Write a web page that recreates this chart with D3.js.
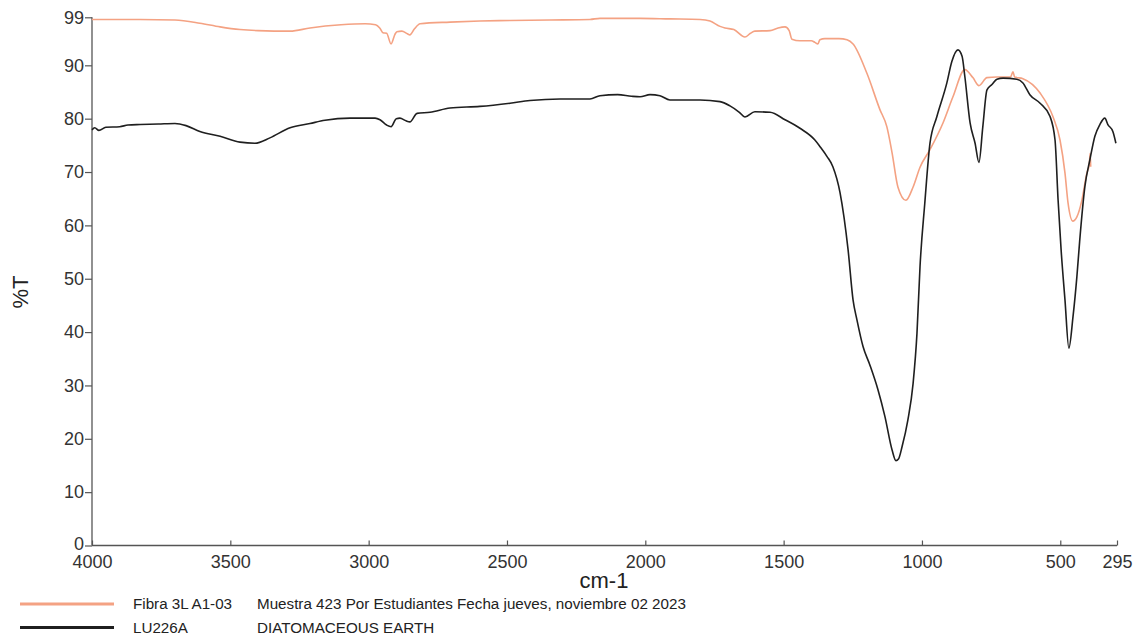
<!DOCTYPE html>
<html>
<head>
<meta charset="utf-8">
<script src="https://cdn.jsdelivr.net/npm/d3@7"></script>
<style>
  body { margin: 0; background: #fff; }
  svg { display: block; font-family: "Liberation Sans", Arial, sans-serif; }
</style>
</head>
<body>
<div class="chart"></div>
<script>
// wavenumber (cm-1) and %T
const fibraWn = [4000, 3826, 3700, 3610, 3537, 3465, 3400, 3284, 3212, 3100, 3013, 2975, 2960, 2948, 2935, 2919, 2905, 2898, 2880, 2860, 2851, 2835, 2814, 2706, 2598, 2489, 2345, 2200, 2164, 2019, 1911, 1802, 1766, 1730, 1712, 1680, 1640, 1620, 1604, 1549, 1520, 1495, 1480, 1470, 1441, 1400, 1387, 1376, 1369, 1351, 1300, 1271, 1249, 1199, 1152, 1127, 1108, 1087, 1058, 1032, 1007, 971, 924, 888, 845, 816, 794, 765, 729, 680, 671, 665, 635, 573, 526, 501, 483, 472, 455, 440, 422, 404, 395, 392, 390];
const fibraT  = [98.6, 98.6, 98.5, 97.9, 97.2, 96.7, 96.5, 96.4, 97.0, 97.6, 97.8, 97.6, 97.0, 96.1, 96.0, 94.0, 95.8, 96.3, 96.4, 95.9, 95.7, 96.8, 97.8, 98.1, 98.3, 98.4, 98.5, 98.6, 98.8, 98.8, 98.7, 98.6, 98.3, 97.3, 97.0, 96.7, 95.3, 96.0, 96.4, 96.5, 97.0, 97.2, 96.5, 94.9, 94.6, 94.6, 94.3, 94.0, 94.8, 95.0, 95.0, 94.8, 94.0, 88.5, 81.7, 78.5, 73.6, 67.2, 64.7, 67.2, 70.9, 74.2, 79.2, 84.1, 89.2, 87.7, 86.2, 87.7, 87.8, 87.8, 88.8, 87.8, 87.5, 84.8, 80.3, 76.0, 69.8, 64.2, 60.8, 61.6, 64.7, 69.8, 71.5, 73.5, 71.0];

const diatoWn = [4000, 3990, 3975, 3950, 3900, 3870, 3826, 3760, 3700, 3660, 3610, 3537, 3465, 3411, 3357, 3284, 3212, 3158, 3067, 2977, 2959, 2935, 2919, 2900, 2887, 2865, 2851, 2825, 2778, 2706, 2598, 2489, 2417, 2308, 2200, 2164, 2100, 2050, 2019, 1983, 1947, 1911, 1802, 1730, 1694, 1660, 1640, 1604, 1549, 1495, 1441, 1387, 1369, 1343, 1322, 1296, 1267, 1249, 1235, 1213, 1188, 1159, 1134, 1108, 1094, 1085, 1072, 1051, 1032, 1018, 1007, 990, 971, 946, 910, 892, 870, 855, 845, 826, 808, 794, 780, 765, 747, 729, 707, 657, 635, 610, 573, 537, 519, 508, 497, 483, 469, 454, 440, 430, 411, 393, 375, 357, 339, 328, 310, 299];
const diatoT  = [77.9, 78.3, 77.8, 78.4, 78.5, 78.8, 78.9, 79.0, 79.1, 78.7, 77.6, 76.7, 75.6, 75.4, 76.4, 78.3, 79.1, 79.7, 80.1, 80.1, 79.8, 78.8, 78.5, 80.0, 80.1, 79.6, 79.4, 81.0, 81.2, 82.0, 82.3, 82.9, 83.4, 83.7, 83.7, 84.3, 84.5, 84.2, 84.1, 84.5, 84.3, 83.5, 83.5, 83.2, 82.4, 81.2, 80.3, 81.3, 81.2, 79.8, 78.2, 76.0, 74.8, 72.9, 71.0, 66.1, 55.4, 46.0, 42.3, 37.3, 33.8, 29.2, 24.2, 17.9, 15.9, 16.2, 18.5, 23.5, 30.4, 39.8, 52.3, 64.0, 75.4, 80.4, 86.7, 90.7, 92.9, 91.7, 87.9, 79.2, 75.4, 71.8, 78.5, 85.4, 86.4, 87.4, 87.6, 87.4, 86.7, 84.5, 82.9, 80.4, 76.0, 64.8, 55.4, 46.0, 37.0, 42.9, 50.4, 57.0, 67.3, 72.3, 76.7, 78.9, 80.1, 78.9, 77.6, 75.4];

const xTicks = [4000, 3500, 3000, 2500, 2000, 1500, 1000, 500, 295];
const yTicks = [0, 10, 20, 30, 40, 50, 60, 70, 80, 90, 99];

const legendNames = ["Fibra 3L A1-03", "LU226A"];
const legendDescs = ["Muestra 423 Por Estudiantes Fecha jueves, noviembre 02 2023", "DIATOMACEOUS EARTH"];
const seriesColors = ["#f4a283", "#1f1f1f"];

const width = 1140, height = 636;
const svg = d3.select('.chart').append('svg')
    .attr('width', width)
    .attr('height', height);

const x = d3.scaleLinear().domain([4000, 295]).range([92, 1117]);
const y = d3.scaleLinear().domain([0, 99]).range([545.5, 17.3]);

// axes
const xAxis = svg.append('g')
    .attr('transform', `translate(0,${y(0)})`)
    .call(d3.axisBottom(x).tickValues(xTicks).tickSize(-5).tickPadding(10).tickFormat(d3.format('d')));
const yAxis = svg.append('g')
    .attr('transform', `translate(${x(4000)},0)`)
    .call(d3.axisLeft(y).tickValues(yTicks).tickSize(7).tickPadding(1));

[xAxis, yAxis].forEach(ax => {
    ax.select('.domain').attr('stroke', '#555').attr('stroke-width', 1.3);
    ax.selectAll('.tick line').attr('stroke', '#555').attr('stroke-width', 1.2);
    ax.selectAll('.tick text')
        .attr('fill', '#333')
        .attr('font-size', '18px')
        .attr('font-family', '"Liberation Sans", Arial, sans-serif');
});
xAxis.select('.domain').attr('d', `M${x(4000)},0H${x(295)}`);
yAxis.select('.domain').attr('d', `M0,${y(0)}V${y(99)}`);
// the 0 label sits just above the 4000 label, as in the original
yAxis.selectAll('.tick text').filter(d => d === 0).attr('dy', '0.2em');

// axis titles
svg.append('text')
    .attr('x', 604).attr('y', 588)
    .attr('text-anchor', 'middle')
    .attr('font-size', '22px')
    .attr('fill', '#222')
    .text('cm-1');
svg.append('text')
    .attr('transform', 'translate(28,292) rotate(-90)')
    .attr('text-anchor', 'middle')
    .attr('font-size', '22px')
    .attr('fill', '#222')
    .text('%T');

// spectra
const line = d3.line()
    .x(d => x(d[0]))
    .y(d => y(d[1]))
    .curve(d3.curveMonotoneX);

const series = [
    d3.zip(fibraWn, fibraT),
    d3.zip(diatoWn, diatoT)
];

svg.append('g')
    .selectAll('path')
    .data(series)
    .enter().append('path')
    .attr('d', line)
    .attr('fill', 'none')
    .attr('stroke', (d, i) => seriesColors[i])
    .attr('stroke-width', 1.6)
    .attr('stroke-linejoin', 'round');

// legend
const legend = svg.append('g')
    .selectAll('g')
    .data(legendNames)
    .enter().append('g')
    .attr('transform', (d, i) => `translate(0,${604 + i * 23.5})`);

legend.append('line')
    .attr('x1', 20).attr('x2', 114)
    .attr('stroke', (d, i) => seriesColors[i])
    .attr('stroke-width', 3);
legend.append('text')
    .attr('x', 133).attr('dy', '0.35em')
    .attr('font-size', '15.2px')
    .attr('fill', '#222')
    .text(d => d);
legend.append('text')
    .attr('x', 257).attr('dy', '0.35em')
    .attr('font-size', '15.2px')
    .attr('fill', '#222')
    .text((d, i) => legendDescs[i]);
</script>
</body>
</html>
